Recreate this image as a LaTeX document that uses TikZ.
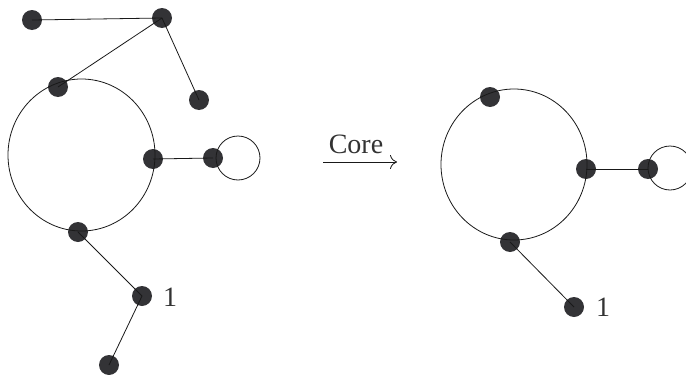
\documentclass[tikz,border=0pt]{standalone}
\usepackage{fontspec}
\setmainfont{Liberation Serif}
\usetikzlibrary{arrows.meta}
\definecolor{dotgray}{HTML}{333336}
\definecolor{txtgray}{HTML}{333333}
\begin{document}
\begin{tikzpicture}[x=1pt,y=-1pt,
  dot/.style={circle, fill=dotgray, minimum size=20pt, inner sep=0pt},
  edge/.style={line width=0.8pt, draw=black!90},
  lbl/.style={text=txtgray, font=\fontsize{28}{32}\selectfont, inner sep=0pt}]
\useasboundingbox (0,0) rectangle (686,375);
% ---- left graph
\node[dot] (a) at (32,20) {};
\node[dot] (b) at (162,18) {};
\node[dot] (c) at (58,87) {};
\node[dot] (d) at (199,100) {};
\node[dot] (e) at (153,159) {};
\node[dot] (f) at (213,158) {};
\node[dot] (g) at (78,232) {};
\node[dot] (h) at (142,296) {};
\node[dot] (i) at (109,365) {};
\node[lbl, anchor=west] (h1) at (163,297) {1};
\draw[edge] (81.5,155) ellipse [x radius=73.5pt, y radius=76pt];
\draw[edge] (a.center) -- (b.center);
\draw[edge] (b.center) -- (c.center);
\draw[edge] (b.center) -- (d.center);
\draw[edge] (e.center) -- (f.center);
\draw[edge] (g.center) -- (h.center);
\draw[edge] (h.center) -- (i.center);
\draw[edge] (238,158) circle [radius=22pt];
% ---- arrow
\coordinate (p) at (323,162);
\coordinate (q) at (397,162);
\draw[edge, -{To[length=7pt,width=14pt]}] (p) -- (q);
\node[lbl, anchor=base] (core) at (356,153) {Core};
% ---- right graph
\node[dot] (j) at (490,97) {};
\node[dot] (k) at (586,169) {};
\node[dot] (l) at (648,169) {};
\node[dot] (m) at (510,242) {};
\node[dot] (n) at (574,307) {};
\node[lbl, anchor=west] (n1) at (596,307) {1};
\draw[edge] (514,164.5) ellipse [x radius=73pt, y radius=75.5pt];
\draw[edge] (k.center) -- (l.center);
\draw[edge] (m.center) -- (n.center);
\draw[edge] (670,168) circle [radius=22pt];
\end{tikzpicture}
\end{document}
